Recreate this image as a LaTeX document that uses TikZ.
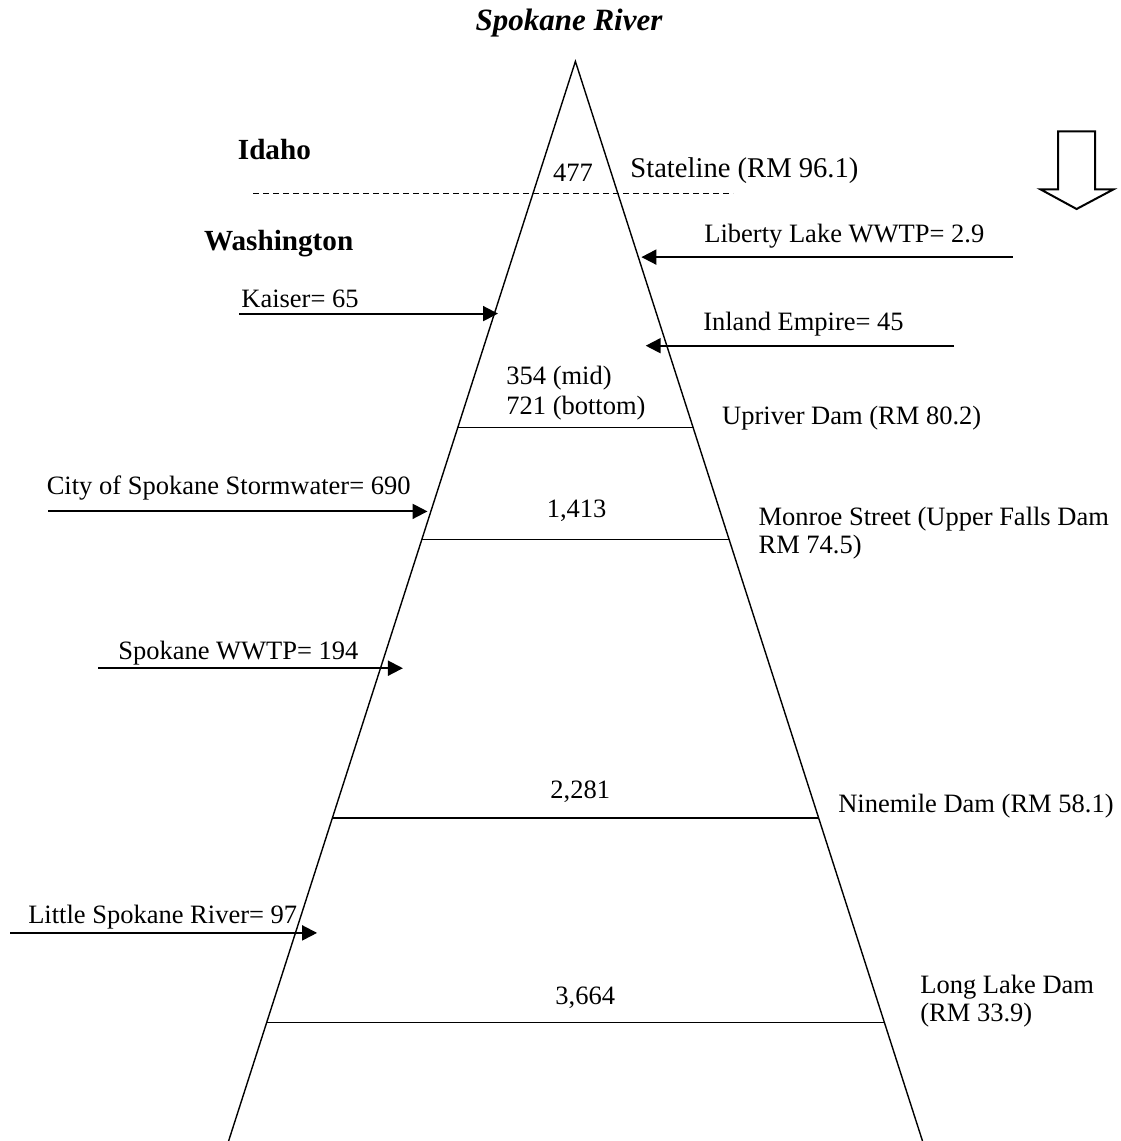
\documentclass[tikz,border=0pt]{standalone}
\usepackage{fontspec}
\setmainfont{Liberation Serif}
\usetikzlibrary{arrows.meta}
\begin{document}
\begin{tikzpicture}[x=0.5pt,y=-0.5pt,
  lbl/.style={anchor=base west,inner sep=0pt,font=\fontsize{13.25}{15.5}\selectfont},
  statelbl/.style={anchor=base west,inner sep=0pt,font=\fontsize{14.6}{17}\selectfont\bfseries},
  titlelbl/.style={anchor=base,inner sep=0pt,font=\fontsize{15.5}{18}\selectfont\bfseries\itshape},
  riverline/.style={line width=0.7pt},
  damline/.style={line width=0.75pt},
  inflow/.style={line width=1pt,-{Triangle[length=7.5pt,width=7.5pt]}},
  border/.style={dashed,dash pattern=on 3pt off 2pt,line width=0.5pt},
  blockarrow/.style={line width=1pt,line join=miter}]
\useasboundingbox (0,0) rectangle (1120,1141);

% river triangle
\coordinate (apex) at (575.4,61.4);
\coordinate (bl) at (228.6,1141);
\coordinate (br) at (922.5,1141);
\draw[riverline] (bl) -- (apex) -- (br);

% title
\node[titlelbl] (title) at (569,30.4) {Spokane River};

% states
\node[statelbl] (idaho) at (237.5,159.6) {Idaho};
\node[statelbl] (wash) at (203.6,250) {Washington};
\coordinate (bdL) at (253,193);
\coordinate (bdR) at (733,193);
\draw[border] (bdL) -- (bdR);

% stateline
\node[lbl] (v477) at (552.7,181.5) {477};
\node[lbl,font=\fontsize{14.3}{16.5}\selectfont] (stateline) at (630,177.3) {Stateline (RM 96.1)};

% dam lines
\coordinate (upL) at (457.8,427.5);
\coordinate (upR) at (693.1,427.5);
\coordinate (moL) at (421.9,539.3);
\coordinate (moR) at (729.0,539.3);
\coordinate (niL) at (332.3,818.2);
\coordinate (niR) at (818.7,818.2);
\coordinate (loL) at (266.7,1022.5);
\coordinate (loR) at (884.4,1022.5);
\draw[damline] (upL) -- (upR);
\draw[damline] (moL) -- (moR);
\draw[damline] (niL) -- (niR);
\draw[damline] (loL) -- (loR);

% values in river
\node[lbl] (v354) at (506,384) {354 (mid)};
\node[lbl] (v721) at (506,414.3) {721 (bottom)};
\node[lbl] (v1413) at (546.4,517) {1,413};
\node[lbl] (v2281) at (550,798.6) {2,281};
\node[lbl] (v3664) at (555,1004) {3,664};

% dam labels
\node[lbl] (upriver) at (721.8,424) {Upriver Dam (RM 80.2)};
\node[lbl] (monroe1) at (758.2,525) {Monroe Street (Upper Falls Dam};
\node[lbl] (monroe2) at (758.2,553.6) {RM 74.5)};
\node[lbl] (ninemile) at (837.9,812.9) {Ninemile Dam (RM 58.1)};
\node[lbl] (longlake1) at (920,993.2) {Long Lake Dam};
\node[lbl] (longlake2) at (920,1021.8) {(RM 33.9)};

% inflows from the right
\node[lbl] (liberty) at (704,242) {Liberty Lake WWTP= 2.9};
\coordinate (libS) at (1012.5,257.1);
\coordinate (libE) at (641.4,257.1);
\draw[inflow] (libS) -- (libE);

\node[lbl] (inland) at (702.9,330.4) {Inland Empire= 45};
\coordinate (inlS) at (954,345.7);
\coordinate (inlE) at (645.7,345.7);
\draw[inflow] (inlS) -- (inlE);

% inflows from the left
\node[lbl] (kaiser) at (241,307) {Kaiser= 65};
\coordinate (kaiS) at (239,313.6);
\coordinate (kaiE) at (498,313.6);
\draw[inflow] (kaiS) -- (kaiE);

\node[lbl] (storm) at (46.4,494.6) {City of Spokane Stormwater= 690};
\coordinate (stoS) at (48.2,511.4);
\coordinate (stoE) at (427.5,511.4);
\draw[inflow] (stoS) -- (stoE);

\node[lbl] (spowwtp) at (117.9,659.3) {Spokane WWTP= 194};
\coordinate (spoS) at (98.2,668.2);
\coordinate (spoE) at (402.9,668.2);
\draw[inflow] (spoS) -- (spoE);

\node[lbl] (little) at (27.9,923.6) {Little Spokane River= 97};
\coordinate (litS) at (10,932.9);
\coordinate (litE) at (317.1,932.9);
\draw[inflow] (litS) -- (litE);

% flow direction block arrow
\draw[blockarrow] (1058.2,131.4) -- (1095,131.4) -- (1095,189.3) -- (1113.6,189.3)
  -- (1076.6,209) -- (1040.4,189.3) -- (1058.2,189.3) -- cycle;
\end{tikzpicture}
\end{document}
